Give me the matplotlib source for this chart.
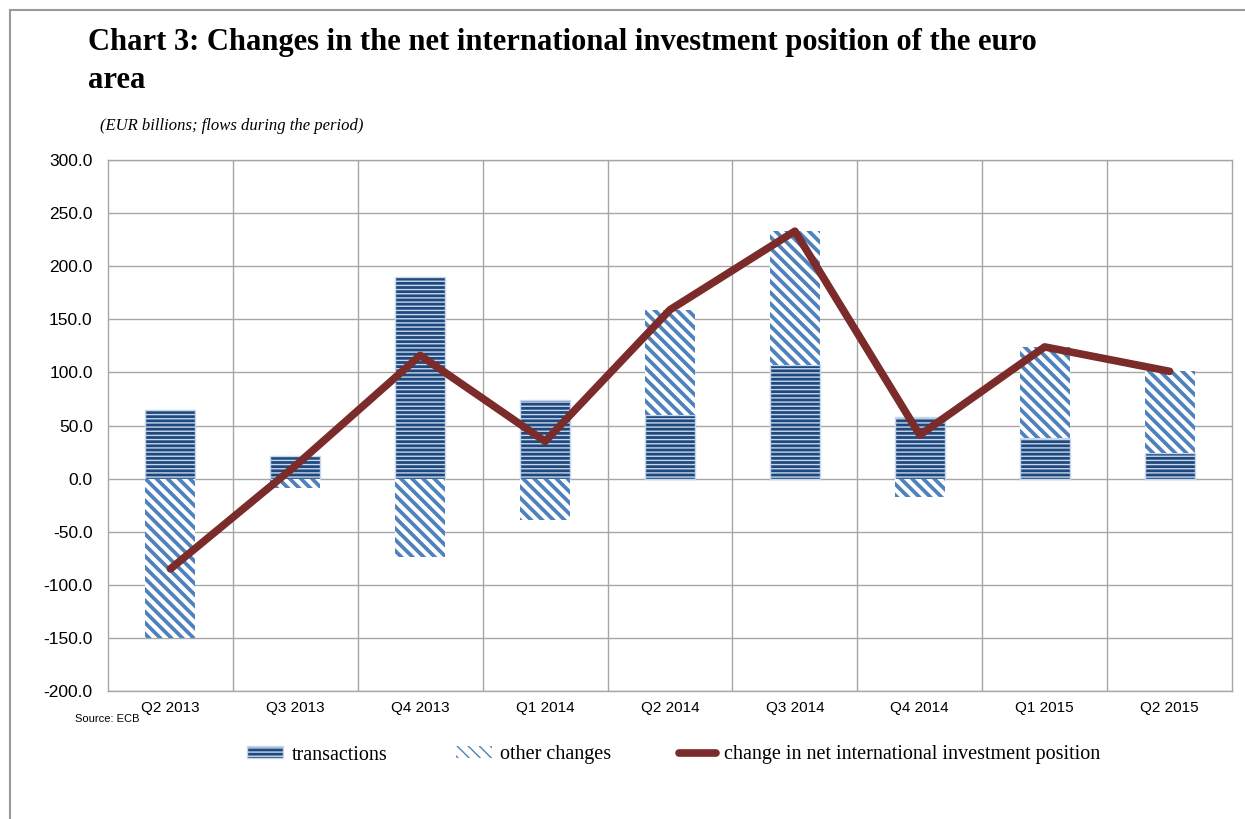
import matplotlib.pyplot as plt
import matplotlib as mpl

quarters = ['Q2 2013', 'Q3 2013', 'Q4 2013', 'Q1 2014', 'Q2 2014',
            'Q3 2014', 'Q4 2014', 'Q1 2015', 'Q2 2015']
transactions = [65, 21, 190, 74, 60, 107, 58, 38, 24]
other_changes = [-150, -9, -74, -39, 99, 126, -17, 86, 77]
net_change = [-85, 12, 116, 35, 159, 233, 41, 124, 101]
yticks = [-200, -150, -100, -50, 0, 50, 100, 150, 200, 250, 300]

serif = 'Liberation Serif'
sans = 'Liberation Sans'

fig = plt.figure(figsize=(12.45, 8.19), dpi=100)
ax = fig.add_axes([108 / 1245, 1 - 691 / 819, (1232 - 108) / 1245, (691 - 160) / 819])

x = list(range(len(quarters)))
bottoms = [t if o > 0 else 0 for t, o in zip(transactions, other_changes)]

with mpl.rc_context({'hatch.linewidth': 1.0}):
    b1 = ax.bar(x, transactions, width=0.4, color='#1f497d', edgecolor='#c6d6ec',
                hatch='----', linewidth=1.0, zorder=2, label='transactions')
with mpl.rc_context({'hatch.linewidth': 2.7}):
    b2 = ax.bar(x, other_changes, bottom=bottoms, width=0.4, color='white',
                edgecolor='#4f81bd', hatch='\\\\\\', linewidth=0, zorder=2,
                label='other changes')
l1, = ax.plot(x, net_change, color='#7b2b2a', lw=5.5, solid_capstyle='round',
              zorder=3, label='change in net international investment position')

ax.set_xlim(-0.5, len(quarters) - 0.5)
ax.set_ylim(-200, 300)
ax.set_yticks(yticks)
ax.set_yticklabels([f'{v:.1f}' for v in yticks], fontfamily=sans, fontsize=12.5)
ax.set_xticks(x)
ax.set_xticklabels(quarters, fontfamily=sans, fontsize=11)
ax.set_xticks([i + 0.5 for i in x[:-1]], minor=True)
ax.tick_params(axis='both', which='both', length=0)
ax.tick_params(axis='y', pad=11)
ax.tick_params(axis='x', pad=7)
ax.grid(axis='y', color='#a6a6a6', lw=1.0, zorder=0)
ax.grid(axis='x', which='minor', color='#a6a6a6', lw=1.0, zorder=0)
for s in ax.spines.values():
    s.set_color('#a6a6a6')
    s.set_linewidth(1.0)

fig.text(88 / 1245, 1 - 28 / 819,
         'Chart 3: Changes in the net international investment position of the euro\narea',
         fontfamily=serif, fontweight='bold', fontsize=22, va='top',
         linespacing=1.4)
fig.text(100 / 1245, 1 - 130 / 819, '(EUR billions; flows during the period)',
         fontfamily=serif, style='italic', fontsize=12, va='baseline')
fig.text(75 / 1245, 1 - 722 / 819, 'Source: ECB', fontfamily=sans, fontsize=8,
         va='baseline')

fig.legend([b1, b2, l1],
           ['transactions', 'other changes',
            'change in net international investment position'],
           loc='center', bbox_to_anchor=(0.541, 1 - 755 / 819), ncol=3,
           frameon=False, prop={'family': serif, 'size': 14.5},
           handlelength=1.8, handleheight=0.55, columnspacing=3.4,
           handletextpad=0.4)

# outer frame
fig.add_artist(plt.Line2D([10 / 1245, 10 / 1245], [0, 1 - 10 / 819], color='#999999', lw=1.5))
fig.add_artist(plt.Line2D([10 / 1245, 1], [1 - 10 / 819, 1 - 10 / 819], color='#999999', lw=1.5))

fig.savefig('out.png', dpi=100)
